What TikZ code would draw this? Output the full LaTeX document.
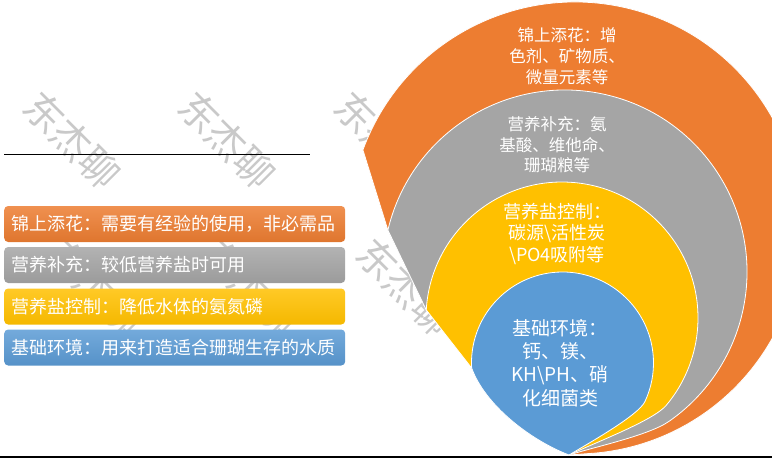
\documentclass[tikz,border=0pt]{standalone}
\usepackage{fontspec}
\setmainfont{Noto Sans CJK SC}
\usetikzlibrary{calc}
\definecolor{cOrange}{HTML}{ED7D31}
\definecolor{cGray}{HTML}{A5A5A5}
\definecolor{cYellow}{HTML}{FFC000}
\definecolor{cBlue}{HTML}{5B9BD5}
\definecolor{wmark}{HTML}{C9C9C9}
\definecolor{baseline}{HTML}{DCDCDC}
\tikzset{
  bar/.style={rounded corners=4pt, minimum width=341pt, minimum height=36pt,
    text width=327pt, inner xsep=7pt, inner ysep=0pt, align=left, text=white,
    font=\fontsize{18}{20}\selectfont, anchor=west},
  ring/.style={draw=white, line width=0.8pt},
  ringtext/.style={text=white, align=center, inner sep=0pt},
  wm/.style={text=wmark, rotate=-45, font=\fontsize{39}{39}\selectfont, inner sep=0pt}
}
\begin{document}
\begin{tikzpicture}[x=1pt,y=-1pt]
\useasboundingbox (0,0) rectangle (772,458);
\begin{scope}
\clip (0,0) rectangle (772,458);
% watermarks
\node[wm] (w1) at (72,140) {东杰聊};
\node[wm] (w2) at (227,140) {东杰聊};
\node[wm] (w3) at (383,140) {东杰聊};
\node[wm] (w4) at (95,287) {东杰聊};
\node[wm] (w5) at (250,287) {东杰聊};
\node[wm] (w6) at (405,287) {东杰聊};
% rule
\coordinate (l1) at (4,154.5);
\coordinate (l2) at (310,154.5);
\draw[line width=1pt] (l1) -- (l2);
% bottom band
\fill[baseline] (0,456) rectangle (772,458);
% teardrop shapes
\coordinate (P) at (569,455);
\coordinate (Oo) at (575,228);
\coordinate (Og) at (565,272);
\coordinate (Oy) at (562,318);
\coordinate (Ob) at (562.5,363);
\coordinate (Do) at ($(Oo)+(200.2:226)$);
\coordinate (Dg) at ($(Og)+(193.3:182)$);
\coordinate (Dy) at ($(Oy)+(183.4:136)$);
\coordinate (Db) at ($(Ob)+(176.85:91)$);
\path[ring, fill=cOrange] (Do) arc[start angle=200.2, end angle=445, radius=226] -- (P) -- (Dg) -- cycle;
\path[ring, fill=cGray] (Dg) arc[start angle=193.3, end angle=415, radius=182]
   .. controls (649,435.5) and (594,447) .. (P) -- (Dy) -- cycle;
\path[ring, fill=cYellow] (Dy) arc[start angle=183.4, end angle=400, radius=136]
   .. controls (653.3,420.7) and (594,443) .. (P) -- (Db) -- cycle;
\path[ring, fill=cBlue] (Db) arc[start angle=176.85, end angle=385, radius=91]
   .. controls (638.7,415.2) and (589,443) .. (P)
   .. controls (530,440) and (485,405) .. (Db) -- cycle;
% texts in rings
\node[ringtext, font=\fontsize{16.5}{21}\selectfont] (t1) at (567,56) {锦上添花：增\\色剂、矿物质、\\微量元素等};
\node[ringtext, font=\fontsize{16.5}{20.5}\selectfont] (t2) at (557,145) {营养补充：氨\\基酸、维他命、\\珊瑚粮等};
\node[ringtext, font=\fontsize{18}{21.5}\selectfont] (t3) at (557,233.5) {营养盐控制：\\碳源\textbackslash 活性炭\\\textbackslash PO4吸附等};
\node[ringtext, font=\fontsize{19}{23.3}\selectfont] (t4) at (560,363) {基础环境：\\钙、镁、\\KH\textbackslash PH、硝\\化细菌类};
\end{scope}
% bars
\node[bar, top color=cOrange!85!white, bottom color=cOrange!94!black] (b1) at (4,224) {锦上添花：需要有经验的使用，非必需品};
\node[bar, top color=cGray!85!white, bottom color=cGray!94!black] (b2) at (4,265) {营养补充：较低营养盐时可用};
\node[bar, top color=cYellow!85!white, bottom color=cYellow!96!black] (b3) at (4,306.5) {营养盐控制：降低水体的氨氮磷};
\node[bar, top color=cBlue!85!white, bottom color=cBlue!94!black] (b4) at (4,347.5) {基础环境：用来打造适合珊瑚生存的水质};
\end{tikzpicture}
\end{document}
